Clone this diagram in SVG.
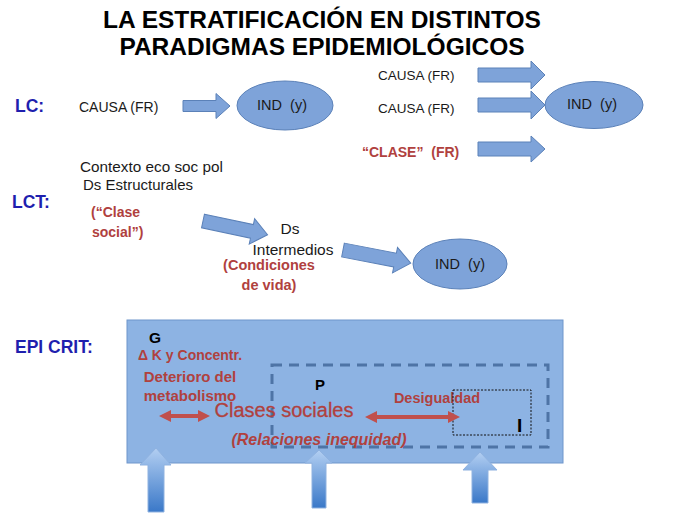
<svg xmlns="http://www.w3.org/2000/svg" width="689" height="517" viewBox="0 0 689 517">
<style>
text{font-family:"Liberation Sans",Arial,sans-serif}
.title{font-size:24.5px;font-weight:bold;fill:#000;text-anchor:middle}
.lbl{font-size:17.5px;font-weight:bold;fill:#1f1fae}
.blk{fill:#1a1a1a}
.red{fill:#b0413e;font-weight:bold}
.arr{fill:#7ea3d9;stroke:#5b81b8;stroke-width:1}
.ell{fill:#7ea3d9;stroke:#5b81b8;stroke-width:1}
.dbl{stroke:#c0504d;stroke-width:4;fill:none;marker-start:url(#hd);marker-end:url(#hd)}
.up{fill:url(#ug);stroke:#8fb2e0;stroke-width:1}
</style>
<defs>
<marker id="hd" viewBox="0 0 10 10" refX="5" refY="5" markerWidth="3" markerHeight="3" orient="auto-start-reverse">
<path d="M0,0 L10,5 L0,10 Z" fill="#c0504d"/>
</marker>
<linearGradient id="ug" x1="0" y1="0" x2="0" y2="1">
<stop offset="0" stop-color="#b3cff2"/>
<stop offset="1" stop-color="#3a78c8"/>
</linearGradient>
</defs>

<g id="title">
<text class="title" x="322" y="28">LA ESTRATIFICACIÓN EN DISTINTOS</text>
<text class="title" x="322" y="55">PARADIGMAS EPIDEMIOLÓGICOS</text>
</g>

<g id="lc-label"><text class="lbl" x="15" y="112">LC:</text></g>
<g id="lc-causa"><text class="blk" x="79" y="112" font-size="14">CAUSA (FR)</text></g>
<g id="lc-ind">
<ellipse class="ell" cx="285" cy="105.5" rx="48" ry="24.5"/>
<text class="blk" x="282" y="110" font-size="14.5" text-anchor="middle" style="white-space:pre">IND  (y)</text>
</g>

<g id="r-causa1"><text class="blk" x="378" y="80" font-size="13.5">CAUSA (FR)</text></g>
<g id="r-causa2"><text class="blk" x="378" y="113" font-size="13.5">CAUSA (FR)</text></g>
<g id="r-clase"><text class="red" x="362" y="157" font-size="14" style="white-space:pre">“CLASE”  (FR)</text></g>
<g id="r-ind">
<ellipse class="ell" cx="594" cy="105" rx="49" ry="23.5"/>
<text class="blk" x="592" y="109" font-size="14.5" text-anchor="middle" style="white-space:pre">IND  (y)</text>
</g>

<g id="lct-label"><text class="lbl" x="12" y="208">LCT:</text></g>
<g id="lct-estructurales">
<text class="blk" x="80" y="172" font-size="15.3">Contexto eco soc pol</text>
<text class="blk" x="83" y="190" font-size="15">Ds Estructurales</text>
<text class="red" x="91" y="217" font-size="14">(“Clase</text>
<text class="red" x="92" y="237" font-size="14">social”)</text>
</g>
<g id="lct-intermedios">
<text class="blk" x="290" y="234" font-size="15.5" text-anchor="middle">Ds</text>
<text class="blk" x="293" y="255" font-size="15.5" text-anchor="middle">Intermedios</text>
<text class="red" x="269" y="270" font-size="14.5" text-anchor="middle">(Condiciones</text>
<text class="red" x="269" y="290" font-size="14.5" text-anchor="middle">de vida)</text>
</g>
<g id="lct-ind">
<ellipse class="ell" cx="460" cy="264" rx="47" ry="25"/>
<text class="blk" x="460" y="269" font-size="14.5" text-anchor="middle" style="white-space:pre">IND  (y)</text>
</g>

<g id="epi-label"><text class="lbl" x="15" y="353">EPI CRIT:</text></g>
<g id="epi-G">
<rect x="127" y="320" width="436" height="143" fill="#8db3e3" stroke="#6f96cb" stroke-width="1"/>
<text x="149" y="343" font-size="15.5" font-weight="bold" fill="#000">G</text>
<text class="red" x="190" y="360" font-size="14" text-anchor="middle">Δ K y Concentr.</text>
<text class="red" x="190" y="382" font-size="15" text-anchor="middle">Deterioro del</text>
<text class="red" x="190" y="401" font-size="15" text-anchor="middle">metabolismo</text>
</g>
<g id="epi-P">
<rect x="272" y="365" width="276" height="82" fill="none" stroke="#4e74a6" stroke-width="3" stroke-dasharray="10 7"/>
<text x="315" y="390" font-size="15" font-weight="bold" fill="#000">P</text>
<text x="284" y="417" font-size="20" fill="#b0413e" stroke="#b0413e" stroke-width="0.3" text-anchor="middle">Clases sociales</text>
<text class="red" x="319" y="445" font-size="16" font-style="italic" text-anchor="middle">(Relaciones inequidad)</text>
<text class="red" x="437" y="403" font-size="14.5" text-anchor="middle">Desigualdad</text>
</g>
<g id="epi-I">
<rect x="453" y="390" width="78" height="45" fill="none" stroke="#111" stroke-width="1" stroke-dasharray="2 1.5"/>
<text x="517" y="432" font-size="19" font-weight="bold" fill="#000">I</text>
</g>

<g id="connectors">
<path class="arr" d="M183,100.5 L216,100.5 L216,93.5 L230,106 L216,118.5 L216,111.5 L183,111.5 Z"/>
<path class="arr" d="M478,68 L531,68 L531,61 L545,75 L531,89 L531,82 L478,82 Z"/>
<path class="arr" d="M478,98 L531,98 L531,91 L545,105 L531,119 L531,112 L478,112 Z"/>
<path class="arr" d="M478,142 L531,142 L531,136 L545,149 L531,162 L531,156 L478,156 Z"/>
<path class="arr" transform="translate(203,221) rotate(12)" d="M0,-7 L50,-7 L50,-13 L66,0 L50,13 L50,7 L0,7 Z"/>
<path class="arr" transform="translate(343,250) rotate(11)" d="M0,-7 L53,-7 L53,-13 L69,0 L53,13 L53,7 L0,7 Z"/>
<line class="dbl" x1="165" y1="416" x2="204" y2="416"/>
<line class="dbl" x1="371" y1="417" x2="454" y2="417"/>
<path class="up" d="M148,512 L148,465 L140,465 L156,448 L171,465 L164,465 L164,512 Z"/>
<path class="up" d="M312,508 L312,463 L305,463 L319,450 L332,463 L326,463 L326,508 Z"/>
<path class="up" d="M472,503 L472,470 L463,470 L480,452 L497,470 L488,470 L488,503 Z"/>
</g>
</svg>
